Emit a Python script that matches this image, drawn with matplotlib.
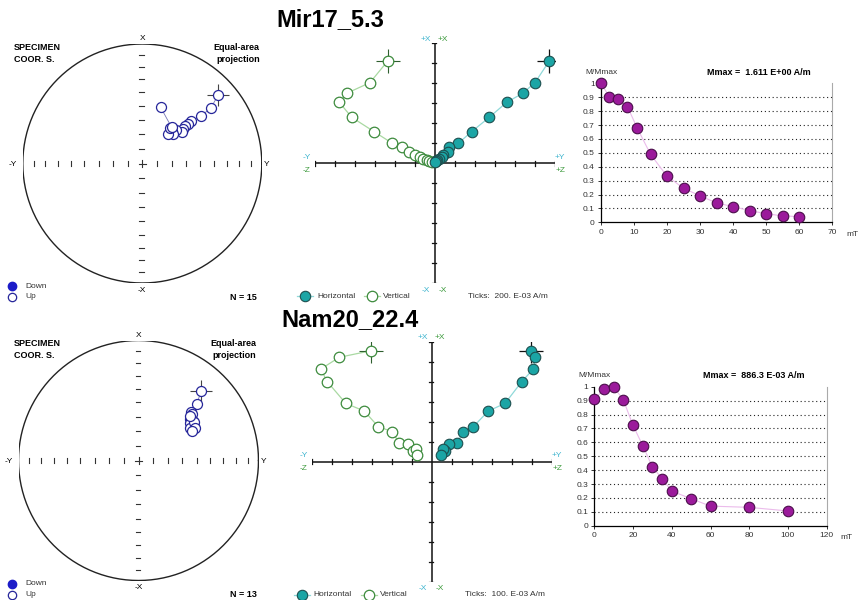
import numpy as np
import matplotlib
matplotlib.use("Agg")
import matplotlib.pyplot as plt

plt.rcParams['font.family'] = ['Liberation Sans', 'DejaVu Sans']

W, H = 860, 600

# Mir17_5.3: AF steps (mT), normalised intensity, directions, vector components (A/m)
mir_steps = [0, 2.5, 5, 8, 11, 15, 20, 25, 30, 35, 40, 45, 50, 55, 60]
mir_mnorm = [1.0, 0.904, 0.89, 0.832, 0.676, 0.489, 0.331, 0.245, 0.19,
             0.139, 0.113, 0.084, 0.062, 0.046, 0.041]
mir_dec = [48, 51, 51, 49, 49, 49, 50, 51, 45, 42, 46, 41, 38, 39, 18]
mir_inc = [-16, -27, -37, -45, -48, -51, -53, -55, -57, -60, -61, -63, -59, -58, -49]
mir_x = [1.023, 0.807, 0.700, 0.610, 0.460, 0.317, 0.200, 0.160, 0.113,
         0.083, 0.060, 0.040, 0.033, 0.027, 0.017]
mir_y = [1.143, 1.000, 0.877, 0.717, 0.543, 0.367, 0.233, 0.143, 0.127,
         0.083, 0.067, 0.040, 0.023, 0.010, 0.003]
mir_z = [-0.473, -0.650, -0.883, -0.957, -0.833, -0.610, -0.427, -0.333, -0.257,
         -0.200, -0.150, -0.117, -0.083, -0.057, -0.033]

# Nam20_22.4
nam_steps = [0, 5, 10, 15, 20, 25, 30, 35, 40, 50, 60, 80, 100]
nam_mnorm = [0.909, 0.981, 1.0, 0.904, 0.722, 0.576, 0.424, 0.338, 0.249,
             0.194, 0.141, 0.132, 0.106]
nam_dec = [42, 46, 47, 49, 51, 54, 54, 58, 58, 55, 49, 60, 61]
nam_inc = [-23, -33, -40, -41, -44, -43, -46, -45, -48, -43, -43, -45, -48]
nam_x = [0.555, 0.522, 0.463, 0.400, 0.292, 0.253, 0.175, 0.150, 0.092,
         0.087, 0.055, 0.062, 0.033]
nam_y = [0.497, 0.517, 0.508, 0.450, 0.367, 0.283, 0.208, 0.158, 0.125,
         0.088, 0.067, 0.055, 0.045]
nam_z = [-0.303, -0.462, -0.555, -0.522, -0.430, -0.337, -0.267, -0.197, -0.162,
         -0.117, -0.095, -0.078, -0.072]

CYAN_TXT = '#3fb5cf'
GREEN_TXT = '#3c9a3c'

fig = plt.figure(figsize=(8.6, 6), dpi=100)
page = fig.add_axes([0, 0, 1, 1])
page.set_xlim(0, W)
page.set_ylim(H, 0)
page.axis('off')


def panel(l, t, r, b):
    return fig.add_axes([l / W, 1 - b / H, (r - l) / W, (b - t) / H])


def label(x, y, s, **kw):
    kw.setdefault('fontsize', 6)
    kw.setdefault('va', 'center')
    page.text(x, y, s, **kw)


def project(dec, inc):
    d = np.radians(dec)
    r = np.sqrt(2) * np.sin(np.radians(90 - np.abs(inc)) / 2)
    return r * np.sin(d), r * np.cos(d)


def stereonet(cx, cy, rad, dec, inc, n_text):
    ax = panel(cx - rad, cy - rad, cx + rad, cy + rad)
    ax.set_xlim(-1, 1)
    ax.set_ylim(-1, 1)
    ax.axis('off')
    th = np.linspace(0, 2 * np.pi, 361)
    ax.plot(np.cos(th), np.sin(th), color='#222222', lw=1.0)
    ticks = np.sqrt(2) * np.sin(np.radians(90 - np.arange(10, 90, 10)) / 2)
    for s in (-1, 1):
        for t in ticks:
            ax.plot([s * t, s * t], [-0.022, 0.022], color='#333333', lw=0.8)
            ax.plot([-0.024, 0.012], [s * t, s * t], color='#333333', lw=0.8)
    ax.plot([-0.03, 0.03], [0, 0], color='#333333', lw=0.8)
    ax.plot([0, 0], [-0.03, 0.03], color='#333333', lw=0.8)

    inc = np.asarray(inc)
    e, n = project(np.asarray(dec), inc)
    ax.plot(e, n, color='#7676b4', lw=0.6, zorder=2)
    ax.plot(e[0], n[0], marker='+', ms=16, mew=0.8, color='#444444', zorder=3)
    down = inc > 0
    ax.plot(e[~down], n[~down], 'o', ls='none', ms=7.2, mfc='white',
            mec='#26269a', mew=0.9, zorder=4)
    ax.plot(e[down], n[down], 'o', ls='none', ms=7.2, mfc='#1c1cc8',
            mec='#1c1cc8', mew=0.9, zorder=4)

    label(cx, cy - rad - 5, 'X', ha='center')
    label(cx, cy + rad + 7, '-X', ha='center')
    label(cx - rad - 10, cy + 1, '-Y', ha='center')
    label(cx + rad + 5, cy + 1, 'Y', ha='center')
    label(14, cy - rad + 3, 'SPECIMEN', fontsize=6.5, fontweight='bold')
    label(14, cy - rad + 15, 'COOR. S.', fontsize=6.5, fontweight='bold')
    label(cx + rad - 2, cy - rad + 3, 'Equal-area', fontsize=6.5,
          fontweight='bold', ha='right')
    label(cx + rad - 2, cy - rad + 15, 'projection', fontsize=6.5,
          fontweight='bold', ha='right')
    page.plot(12, cy + rad + 3, 'o', ms=6, mfc='#1c1cc8', mec='#1c1cc8')
    page.plot(12, cy + rad + 14, 'o', ms=6, mfc='white', mec='#26269a', mew=0.9)
    label(25, cy + rad + 3, 'Down', color='#333333')
    label(25, cy + rad + 14, 'Up', color='#333333')
    label(230, cy + rad + 14, n_text, fontsize=6.5, fontweight='bold')


def zijderveld(cx, cy, lim, x, y, z, tick_text):
    half = 120
    ax = panel(cx - half, cy - half, cx + half, cy + half)
    ax.set_xlim(-lim, lim)
    ax.set_ylim(-lim, lim)
    ax.axis('off')
    step = lim / 6
    ax.plot([-lim, lim], [0, 0], color='#111111', lw=1.1)
    ax.plot([0, 0], [-lim, lim], color='#111111', lw=1.1)
    tl = lim * 0.02
    for k in range(-6, 7):
        if k == 0:
            continue
        t = k * step
        ax.plot([t, t], [-tl, tl], color='#111111', lw=0.9)
        ax.plot([-tl * 1.3, tl * 0.5], [t, t], color='#111111', lw=0.9)

    # vertical projection (Z, X)
    ax.plot(z, x, '-', color='#a9d9a2', lw=0.9, zorder=2)
    ax.plot(z[0], x[0], marker='+', ms=17, mew=0.8, color='#2f5f2f', zorder=3)
    ax.plot(z, x, 'o', ls='none', ms=7.6, mfc='white', mec='#3d8b3d',
            mew=0.9, zorder=4, clip_on=False)
    # horizontal projection (Y, X)
    ax.plot(y, x, '-', color='#8fd9d9', lw=0.9, zorder=5)
    ax.plot(y[0], x[0], marker='+', ms=17, mew=0.9, color='#111111', zorder=6)
    ax.plot(y, x, 'o', ls='none', ms=7.6, mfc='#1ba5a5', mec='#1d4f4f',
            mew=0.8, zorder=7, clip_on=False)

    label(cx - 9, cy - half - 4, '+X', color=CYAN_TXT, ha='center')
    label(cx + 8, cy - half - 4, '+X', color=GREEN_TXT, ha='center')
    label(cx - 9, cy + half + 7, '-X', color=CYAN_TXT, ha='center')
    label(cx + 8, cy + half + 7, '-X', color=GREEN_TXT, ha='center')
    label(cx - half - 8, cy - 6, '-Y', color=CYAN_TXT, ha='center')
    label(cx - half - 8, cy + 7, '-Z', color=GREEN_TXT, ha='center')
    label(cx + half + 5, cy - 6, '+Y', color=CYAN_TXT, ha='center')
    label(cx + half + 6, cy + 7, '+Z', color=GREEN_TXT, ha='center')

    ly = cy + half + 13
    lx = cx - 130
    page.plot([lx - 8, lx + 8], [ly, ly], color='#8fd9d9', lw=0.9)
    page.plot(lx, ly, 'o', ms=7.5, mfc='#1ba5a5', mec='#1d4f4f', mew=0.8)
    label(lx + 12, ly, 'Horizontal', color='#333333')
    lx2 = lx + 67
    page.plot([lx2 - 8, lx2 + 8], [ly, ly], color='#a9d9a2', lw=0.9)
    page.plot(lx2, ly, 'o', ms=7.5, mfc='white', mec='#3d8b3d', mew=0.9)
    label(lx2 + 11, ly, 'Vertical', color='#333333')
    label(cx + 33, ly, tick_text, color='#333333')


def intensity(l, t, r, b, steps, mnorm, xmax, xstep, mmax_text):
    ax = panel(l, t, r, b)
    ax.set_xlim(0, xmax)
    ax.set_ylim(0, 1)
    ax.set_xticks(np.arange(0, xmax + 1, xstep))
    yt = np.round(np.arange(0, 1.01, 0.1), 1)
    ax.set_yticks(yt)
    ax.set_yticklabels([f'{v:g}' for v in yt])
    for v in yt[1:-1]:
        ax.axhline(v, color='#222222', lw=0.8, ls=(0, (1, 2.5)), zorder=1)
    ax.spines['top'].set_visible(False)
    ax.spines['right'].set_color('#aaaaaa')
    ax.spines['right'].set_linewidth(0.8)
    ax.spines['left'].set_linewidth(0.9)
    ax.spines['bottom'].set_linewidth(0.9)
    ax.tick_params(labelsize=6, length=2.5, width=0.7, pad=2,
                   color='#333333', labelcolor='#333333')
    ax.plot(steps, mnorm, '-', color='#ebbbeb', lw=0.8, zorder=2)
    ax.plot(steps, mnorm, 'o', ls='none', ms=7.6, mfc='#9b1a9b',
            mec='#4a0e4a', mew=0.8, zorder=3, clip_on=False)
    label(l, t - 11, 'M/Mmax', ha='center', color='#333333')
    label(r - 22, t - 11, mmax_text, fontsize=6.5, fontweight='bold', ha='right')
    label(r + 14, b + 2 + 10, 'mT', color='#333333')


page.text(330, 20, 'Mir17_5.3', fontsize=17, fontweight='bold',
          ha='center', va='center')
page.text(350, 320, 'Nam20_22.4', fontsize=17, fontweight='bold',
          ha='center', va='center')

stereonet(142.3, 163.5, 119.5, mir_dec, mir_inc, 'N = 15')
stereonet(138.5, 460.5, 120, nam_dec, nam_inc, 'N = 13')

zijderveld(435, 163.3, 1.2, np.array(mir_x), np.array(mir_y), np.array(mir_z),
           'Ticks:  200. E-03 A/m')
zijderveld(431.7, 461.7, 0.6, np.array(nam_x), np.array(nam_y), np.array(nam_z),
           'Ticks:  100. E-03 A/m')

intensity(601, 83.3, 832.3, 222.3, mir_steps, mir_mnorm, 70, 10,
          'Mmax =  1.611 E+00 A/m')
intensity(594.3, 386.7, 826.7, 525.7, nam_steps, nam_mnorm, 120, 20,
          'Mmax =  886.3 E-03 A/m')

fig.savefig('out.png', dpi=100)
